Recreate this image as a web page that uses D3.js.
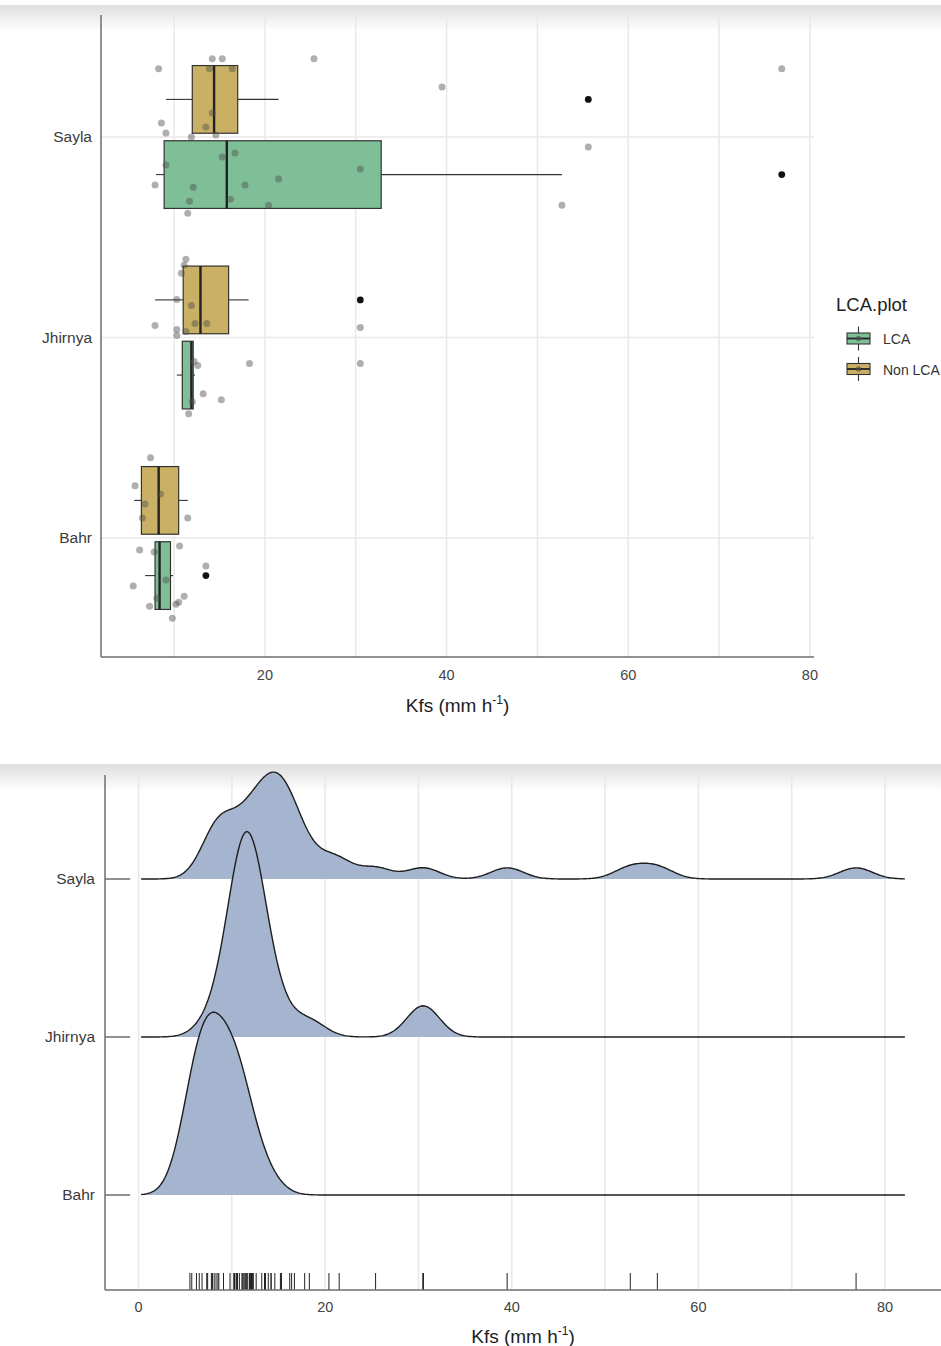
<!DOCTYPE html>
<html><head><meta charset="utf-8">
<script src="https://cdn.jsdelivr.net/npm/d3@7"></script>
<style>body{margin:0;background:#fff;} svg{display:block;font-family:"Liberation Sans",Arial,sans-serif;}</style>
</head><body><svg id="c" width="941" height="1346"></svg>
<script>
// ---------------- DATA ----------------
const categories = ["Sayla", "Jhirnya", "Bahr"];
const groups = ["Non LCA", "LCA"];
const legendGroups = ["LCA", "Non LCA"];
const xTicksTop = [20, 40, 60, 80];
const xTicksBottom = [0, 20, 40, 60, 80];

// box statistics (order: Sayla NonLCA, Sayla LCA, Jhirnya NonLCA, Jhirnya LCA, Bahr NonLCA, Bahr LCA)
const boxCategory = ["Sayla", "Sayla", "Jhirnya", "Jhirnya", "Bahr", "Bahr"];
const boxGroup = ["Non LCA", "LCA", "Non LCA", "LCA", "Non LCA", "LCA"];
const boxLow = [9.1, 8.0, 7.9, 10.3, 5.6, 6.8];
const boxQ1 = [12.0, 8.9, 11.0, 10.9, 6.4, 7.9];
const boxMedian = [14.4, 15.8, 12.9, 11.9, 8.3, 8.4];
const boxQ3 = [17.0, 32.8, 16.0, 12.1, 10.5, 9.6];
const boxHigh = [21.5, 52.7, 18.2, 12.3, 11.5, 9.9];

const outlierCategory = ["Sayla", "Sayla", "Jhirnya", "Bahr"];
const outlierGroup = ["Non LCA", "LCA", "Non LCA", "LCA"];
const outlierValue = [55.6, 76.9, 30.5, 13.5];

// raw observations (Kfs) and their jitter offsets (in category units)
const saylaValues = [14.2, 15.3, 8.3, 13.9, 16.4, 25.4, 39.5, 14.2, 13.5, 8.6, 9.1, 11.9, 14.6, 15.3, 16.7, 9.1, 30.5, 21.5, 7.9, 12.1, 17.8, 11.7, 16.2, 20.4, 11.5, 52.7, 55.6, 76.9];
const saylaJitter = [-0.39, -0.39, -0.34, -0.34, -0.34, -0.39, -0.25, -0.12, -0.05, -0.07, -0.02, 0.0, -0.01, 0.10, 0.08, 0.14, 0.16, 0.21, 0.24, 0.25, 0.24, 0.32, 0.31, 0.34, 0.38, 0.34, 0.05, -0.34];
const jhirnyaValues = [11.3, 11.1, 10.8, 10.3, 11.9, 7.9, 12.3, 13.6, 10.3, 10.3, 11.3, 30.5, 12.2, 12.6, 18.3, 30.5, 13.2, 15.2, 12.0, 11.6];
const jhirnyaJitter = [-0.39, -0.36, -0.32, -0.19, -0.16, -0.06, -0.07, -0.07, -0.04, -0.01, -0.03, -0.05, 0.12, 0.14, 0.13, 0.13, 0.28, 0.31, 0.32, 0.38];
const bahrValues = [7.4, 5.7, 8.5, 6.8, 6.5, 11.5, 6.2, 7.8, 10.6, 13.5, 9.1, 5.5, 8.1, 7.3, 11.1, 10.5, 10.2, 9.8];
const bahrJitter = [-0.40, -0.26, -0.22, -0.17, -0.10, -0.10, 0.06, 0.07, 0.04, 0.14, 0.21, 0.24, 0.30, 0.34, 0.29, 0.32, 0.33, 0.40];

// ---------------- STYLE ----------------
const fillFor = {"LCA": "#7fbf97", "Non LCA": "#c9b064"};
const ridgeFill = "#a6b5cf";
const gridColor = "#e9e9e9";
const axisColor = "#6e6e6e";
const textColor = "#444";

const valuesBy = {Sayla: saylaValues, Jhirnya: jhirnyaValues, Bahr: bahrValues};
const jitterBy = {Sayla: saylaJitter, Jhirnya: jhirnyaJitter, Bahr: bahrJitter};

const svg = d3.select("#c");
const defs = svg.append("defs");
const grad = defs.append("linearGradient").attr("id", "band").attr("x1", 0).attr("y1", 0).attr("x2", 0).attr("y2", 1);
grad.append("stop").attr("offset", "0%").attr("stop-color", "#dedede");
grad.append("stop").attr("offset", "100%").attr("stop-color", "#ffffff");

// ================= TOP PANEL: boxplots =================
const P1 = {left: 101, right: 814, top: 15, bottom: 657};
const x1 = d3.scaleLinear().domain([1.95, 80.45]).range([P1.left, P1.right]);
const y1 = d3.scalePoint().domain(categories).range([137, 538]);
const step1 = y1.step();
const dodge = d3.scaleOrdinal().domain(groups).range([-0.1875, 0.1875]);
const halfBox = 0.16875;

svg.append("rect").attr("x", 0).attr("y", 5).attr("width", 941).attr("height", 26).attr("fill", "url(#band)");

const g1 = svg.append("g");
const minor1 = d3.range(10, 81, 10);
g1.selectAll("line.vg").data(minor1).join("line")
  .attr("x1", d => x1(d)).attr("x2", d => x1(d))
  .attr("y1", P1.top).attr("y2", P1.bottom)
  .attr("stroke", gridColor).attr("stroke-width", 1.5);
g1.selectAll("line.hg").data(categories).join("line")
  .attr("x1", P1.left).attr("x2", P1.right)
  .attr("y1", d => y1(d)).attr("y2", d => y1(d))
  .attr("stroke", gridColor).attr("stroke-width", 1.5);

// boxes
const boxes = boxCategory.map((c, i) => ({c, g: boxGroup[i], lo: boxLow[i], q1: boxQ1[i], med: boxMedian[i], q3: boxQ3[i], hi: boxHigh[i]}));
const bcy = d => y1(d.c) + dodge(d.g) * step1;
const bg = g1.selectAll("g.box").data(boxes).join("g");
bg.append("line").attr("x1", d => x1(d.lo)).attr("x2", d => x1(d.q1)).attr("y1", bcy).attr("y2", bcy).attr("stroke", "#333").attr("stroke-width", 1.1);
bg.append("line").attr("x1", d => x1(d.q3)).attr("x2", d => x1(d.hi)).attr("y1", bcy).attr("y2", bcy).attr("stroke", "#333").attr("stroke-width", 1.1);
bg.append("rect").attr("x", d => x1(d.q1)).attr("width", d => x1(d.q3) - x1(d.q1))
  .attr("y", d => bcy(d) - halfBox * step1).attr("height", 2 * halfBox * step1)
  .attr("fill", d => fillFor[d.g]).attr("stroke", "#333").attr("stroke-width", 1.2);
bg.append("line").attr("x1", d => x1(d.med)).attr("x2", d => x1(d.med))
  .attr("y1", d => bcy(d) - halfBox * step1).attr("y2", d => bcy(d) + halfBox * step1)
  .attr("stroke", "#222").attr("stroke-width", 2.4);

// outliers
const outs = outlierValue.map((v, i) => ({v, c: outlierCategory[i], g: outlierGroup[i]}));
g1.selectAll("circle.out").data(outs).join("circle")
  .attr("cx", d => x1(d.v)).attr("cy", d => y1(d.c) + dodge(d.g) * step1)
  .attr("r", 3.4).attr("fill", "#111");

// jitter points
const pts = categories.flatMap(c => valuesBy[c].map((v, i) => ({c, v, j: jitterBy[c][i]})));
g1.selectAll("circle.pt").data(pts).join("circle")
  .attr("cx", d => x1(d.v)).attr("cy", d => y1(d.c) + d.j * step1)
  .attr("r", 3.5).attr("fill", "#4d4d4d").attr("opacity", 0.45);

// axes
g1.append("line").attr("x1", P1.left).attr("x2", P1.left).attr("y1", P1.top).attr("y2", P1.bottom).attr("stroke", axisColor).attr("stroke-width", 1.5);
g1.append("line").attr("x1", P1.left).attr("x2", P1.right).attr("y1", P1.bottom).attr("y2", P1.bottom).attr("stroke", axisColor).attr("stroke-width", 1.5);
g1.selectAll("text.xt").data(xTicksTop).join("text")
  .attr("x", d => x1(d)).attr("y", P1.bottom + 23).attr("text-anchor", "middle")
  .attr("font-size", 14.5).attr("fill", textColor).text(d => d);
g1.selectAll("text.yt").data(categories).join("text")
  .attr("x", P1.left - 9).attr("y", d => y1(d) + 5).attr("text-anchor", "end")
  .attr("font-size", 15.5).attr("fill", "#3a3a3a").text(d => d);
function xTitle(g, cx, y) {
  const t = g.append("text").attr("x", cx).attr("y", y).attr("text-anchor", "middle").attr("font-size", 19).attr("fill", "#222");
  t.append("tspan").text("Kfs (mm h");
  t.append("tspan").attr("font-size", 12).attr("dy", -8).text("-1");
  t.append("tspan").attr("dy", 8).text(")");
}
xTitle(g1, (P1.left + P1.right) / 2, 712);

// legend
const lg = svg.append("g");
lg.append("text").attr("x", 836).attr("y", 311).attr("font-size", 18.5).attr("fill", "#222").text("LCA.plot");
const ly = d3.scalePoint().domain(legendGroups).range([338.5, 369]);
const key = lg.selectAll("g.key").data(legendGroups).join("g");
key.append("line").attr("x1", 858.5).attr("x2", 858.5).attr("y1", d => ly(d) - 12).attr("y2", d => ly(d) + 12).attr("stroke", "#333").attr("stroke-width", 1.1);
key.append("rect").attr("x", 847).attr("width", 23).attr("y", d => ly(d) - 5.5).attr("height", 11)
  .attr("fill", d => fillFor[d]).attr("stroke", "#333").attr("stroke-width", 1.1);
key.append("line").attr("x1", 847).attr("x2", 870).attr("y1", d => ly(d)).attr("y2", d => ly(d)).attr("stroke", "#222").attr("stroke-width", 1.8);
key.append("circle").attr("cx", 858.5).attr("cy", d => ly(d)).attr("r", 2.8).attr("fill", "#4d4d4d").attr("opacity", 0.6);
key.append("text").attr("x", 883).attr("y", d => ly(d) + 5.5).attr("font-size", 14).attr("fill", "#333").text(d => d);

// ================= BOTTOM PANEL: ridgelines =================
const P2 = {left: 105, right: 941, top: 775, bottom: 1290};
const x2 = d3.scaleLinear().domain([0, 80]).range([138.6, 885]);
const y2 = d3.scalePoint().domain(categories).range([879, 1195]);
const step2 = y2.step();

svg.append("rect").attr("x", 0).attr("y", 764).attr("width", 941).attr("height", 27).attr("fill", "url(#band)");

const g2 = svg.append("g");
g2.selectAll("line.vg").data(d3.range(0, 81, 10)).join("line")
  .attr("x1", d => x2(d)).attr("x2", d => x2(d)).attr("y1", P2.top - 4).attr("y2", P2.bottom)
  .attr("stroke", gridColor).attr("stroke-width", 1.6);
g2.selectAll("line.hg").data(categories).join("line")
  .attr("x1", P2.left).attr("x2", x2(-0.9)).attr("y1", d => y2(d)).attr("y2", d => y2(d))
  .attr("stroke", "#555").attr("stroke-width", 1.3);

// kernel density (joint bandwidth, bw.nrd0)
const allValues = categories.flatMap(c => valuesBy[c]);
const sorted = allValues.slice().sort(d3.ascending);
const sd = d3.deviation(allValues);
const iqr = d3.quantileSorted(sorted, 0.75) - d3.quantileSorted(sorted, 0.25);
const bw = 0.9 * Math.min(sd, iqr / 1.34) * Math.pow(allValues.length, -0.2);
const lo = d3.min(allValues) - 3 * bw, hi = d3.max(allValues) + 3 * bw;
const grid = d3.range(0, 513).map(i => lo + (hi - lo) * i / 512);
const gauss = u => Math.exp(-0.5 * u * u) / Math.sqrt(2 * Math.PI);
const dens = {};
categories.forEach(c => {
  const vals = valuesBy[c];
  dens[c] = grid.map(x => [x, d3.sum(vals, v => gauss((x - v) / bw)) / (vals.length * bw)]);
});
const maxD = d3.max(categories, c => d3.max(dens[c], d => d[1]));
const ridgeScale = 1.3;
const hS = d3.scaleLinear().domain([0, maxD]).range([0, ridgeScale * step2]);

categories.forEach(c => {
  const base = y2(c);
  const area = d3.area().x(d => x2(d[0])).y0(base).y1(d => base - hS(d[1]));
  const line = d3.line().x(d => x2(d[0])).y(d => base - hS(d[1]));
  g2.append("path").attr("d", area(dens[c])).attr("fill", ridgeFill);
  g2.append("path").attr("d", line(dens[c])).attr("fill", "none").attr("stroke", "#1e1e1e").attr("stroke-width", 1.4);
});

// rug
g2.selectAll("line.rug").data(allValues).join("line")
  .attr("x1", d => x2(d)).attr("x2", d => x2(d)).attr("y1", P2.bottom - 17).attr("y2", P2.bottom)
  .attr("stroke", "#222").attr("stroke-width", 1);

// axes
g2.append("line").attr("x1", P2.left).attr("x2", P2.left).attr("y1", P2.top).attr("y2", P2.bottom).attr("stroke", axisColor).attr("stroke-width", 1.5);
g2.append("line").attr("x1", P2.left).attr("x2", P2.right).attr("y1", P2.bottom).attr("y2", P2.bottom).attr("stroke", axisColor).attr("stroke-width", 1.5);
g2.selectAll("text.xt").data(xTicksBottom).join("text")
  .attr("x", d => x2(d)).attr("y", P2.bottom + 22).attr("text-anchor", "middle")
  .attr("font-size", 14.5).attr("fill", textColor).text(d => d);
g2.selectAll("text.yt").data(categories).join("text")
  .attr("x", P2.left - 10).attr("y", d => y2(d) + 5).attr("text-anchor", "end")
  .attr("font-size", 15.5).attr("fill", "#3a3a3a").text(d => d);
xTitle(g2, (P2.left + P2.right) / 2, 1343);
</script></body></html>
